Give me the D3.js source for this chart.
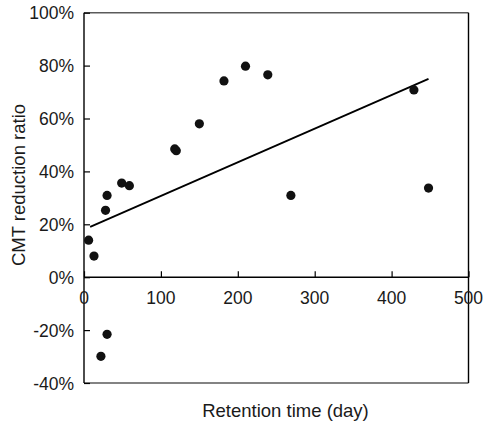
<!DOCTYPE html>
<html>
<head>
<meta charset="utf-8">
<script src="https://cdn.jsdelivr.net/npm/d3@7"></script>
<style>
  html, body { margin: 0; padding: 0; background: #fff; }
  svg { display: block; font-family: "Liberation Sans", Arial, sans-serif; }
</style>
</head>
<body>
<svg id="chart" width="483" height="424"></svg>
<script>
// Data
const days = [6, 13, 28, 30, 49, 59, 118, 120, 150, 182, 210, 239, 269, 429, 448, 22, 30];
const ratios = [14, 8, 25.3, 30.9, 35.6, 34.6, 48.5, 47.8, 58, 74.2, 79.8, 76.5, 30.9, 70.8, 33.7, -29.9, -21.6];
const trendDays = [8, 448];
const trendRatios = [19, 75];
const xTicks = [0, 100, 200, 300, 400, 500];
const yTicks = [-40, -20, 0, 20, 40, 60, 80, 100];
const xTitle = "Retention time (day)";
const yTitle = "CMT reduction ratio";

(function () {
const svg = d3.select("#chart");
const mLeft = 84, mRight = 468.5, mTop = 12.7, mBottom = 383;
const x = d3.scaleLinear().domain([0, 500]).range([mLeft, mRight]);
const y = d3.scaleLinear().domain([-40, 100]).range([mBottom, mTop]);
const fs = "17.5px";

// Frame: top & bottom grey, right black
svg.append("line").attr("x1", mLeft).attr("x2", mRight).attr("y1", mTop).attr("y2", mTop)
  .attr("stroke", "#5a5a5a").attr("stroke-width", 1.4);
svg.append("line").attr("x1", mLeft).attr("x2", mRight).attr("y1", mBottom).attr("y2", mBottom)
  .attr("stroke", "#5a5a5a").attr("stroke-width", 1.4);
svg.append("line").attr("x1", mRight).attr("x2", mRight).attr("y1", mTop).attr("y2", mBottom)
  .attr("stroke", "#000").attr("stroke-width", 1.4);

// Y axis (ticks inward)
const yAxis = d3.axisRight(y).tickValues(yTicks).tickSize(6).tickFormat("");
const gy = svg.append("g").attr("transform", `translate(${mLeft},0)`).call(yAxis);
gy.select(".domain").remove();
gy.selectAll(".tick line").attr("stroke", "#000").attr("stroke-width", 1.2);
svg.append("line").attr("x1", mLeft).attr("x2", mLeft).attr("y1", mTop).attr("y2", mBottom)
  .attr("stroke", "#000").attr("stroke-width", 1.4);

svg.append("g").selectAll("text").data(yTicks).join("text")
  .attr("x", mLeft - 10).attr("y", d => y(d) + 2)
  .attr("text-anchor", "end").attr("dominant-baseline", "middle")
  .attr("font-size", fs).attr("fill", "#1a1a1a")
  .text(d => d + "%");

// X axis at 0%, ticks upward
const xAxis = d3.axisTop(x).tickValues(xTicks).tickSize(6).tickFormat("");
const gx = svg.append("g").attr("transform", `translate(0,${y(0)})`).call(xAxis);
gx.select(".domain").remove();
gx.selectAll(".tick line").attr("stroke", "#000").attr("stroke-width", 1.2);
svg.append("line").attr("x1", mLeft).attr("x2", mRight).attr("y1", y(0)).attr("y2", y(0))
  .attr("stroke", "#000").attr("stroke-width", 1.4);

svg.append("g").selectAll("text").data(xTicks).join("text")
  .attr("x", d => x(d)).attr("y", y(0) + 26.5)
  .attr("text-anchor", "middle")
  .attr("font-size", fs).attr("fill", "#1a1a1a")
  .text(d => d);

// Trend line
const line = d3.line().x(d => x(d[0])).y(d => y(d[1]));
svg.append("path").datum(trendDays.map((d, i) => [d, trendRatios[i]]))
  .attr("d", line).attr("fill", "none").attr("stroke", "#000").attr("stroke-width", 1.8);

// Points
svg.append("g").selectAll("circle").data(days.map((d, i) => [d, ratios[i]])).join("circle")
  .attr("cx", d => x(d[0])).attr("cy", d => y(d[1])).attr("r", 4.6)
  .attr("fill", "#111");

// Titles
svg.append("text").attr("x", 285.5).attr("y", 416.5)
  .attr("text-anchor", "middle").attr("font-size", "18.5px").attr("fill", "#1a1a1a")
  .text(xTitle);
svg.append("text").attr("transform", `translate(24.5,185) rotate(-90)`)
  .attr("text-anchor", "middle").attr("font-size", "18.5px").attr("fill", "#1a1a1a")
  .text(yTitle);
})();
</script>
</body>
</html>
